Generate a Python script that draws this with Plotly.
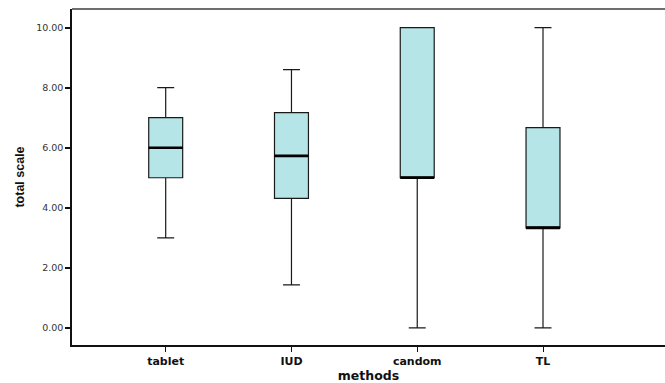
import plotly.graph_objects as go

categories = ["tablet", "IUD", "candom", "TL"]
lower_whisker = [3.0, 1.43, 0.0, 0.0]
q1_vals = [5.0, 4.31, 5.0, 3.33]
median_vals = [6.0, 5.73, 5.0, 3.33]
q3_vals = [7.0, 7.17, 10.0, 6.67]
upper_whisker = [8.0, 8.6, 10.0, 10.0]
y_ticks = [0, 2, 4, 6, 8, 10]

positions = list(range(len(categories)))
box_w = 0.27
fill = "#b5e5e7"
font_fam = "Arial, 'Liberation Sans', sans-serif"
wide_fam = "'DejaVu Sans', Arial, sans-serif"

fig = go.Figure()
fig.add_trace(go.Box(
    x=positions, q1=q1_vals, median=median_vals, q3=q3_vals,
    lowerfence=lower_whisker, upperfence=upper_whisker,
    width=box_w, whiskerwidth=0.5, fillcolor=fill,
    line=dict(color="#1a1a1a", width=1.2), boxpoints=False,
    showlegend=False, hoverinfo="skip",
))

mx, my = [], []
for p, m in zip(positions, median_vals):
    mx += [p - box_w / 2, p + box_w / 2, None]
    my += [m, m, None]
fig.add_trace(go.Scatter(x=mx, y=my, mode="lines",
                         line=dict(color="#000000", width=2.6),
                         showlegend=False, hoverinfo="skip"))

fig.add_shape(type="line", xref="paper", yref="paper", x0=0, x1=1, y0=1, y1=1,
              line=dict(color="#6e6e6e", width=2))

fig.update_layout(
    width=665, height=383,
    margin=dict(l=72, r=0, t=9, b=38),
    paper_bgcolor="white", plot_bgcolor="white",
    font=dict(family=font_fam, color="#222222"),
    xaxis=dict(
        range=[-0.745, 3.97], tickmode="array", tickvals=positions,
        ticktext=["<b>%s</b>" % c for c in categories],
        tickfont=dict(size=11, color="#111111", family=wide_fam),
        ticks="outside", ticklen=5, tickcolor="#111111", tickwidth=1,
        showline=True, linecolor="#111111", linewidth=2,
        showgrid=False, zeroline=False,
        title=dict(text="<b>methods</b>", font=dict(size=12.5, color="#111111", family=wide_fam), standoff=5),
    ),
    yaxis=dict(
        range=[-0.57, 10.62], tickmode="array", tickvals=y_ticks,
        tickformat=".2f", tickfont=dict(size=9.5, color="#333333", family=wide_fam),
        ticks="outside", ticklen=5, tickcolor="#111111", tickwidth=1.5,
        showline=True, linecolor="#111111", linewidth=1.5,
        showgrid=False, zeroline=False,
        title=dict(text="<b>total scale</b>", font=dict(size=12.5, color="#111111"), standoff=9),
    ),
)

fig.write_html("out.html")
